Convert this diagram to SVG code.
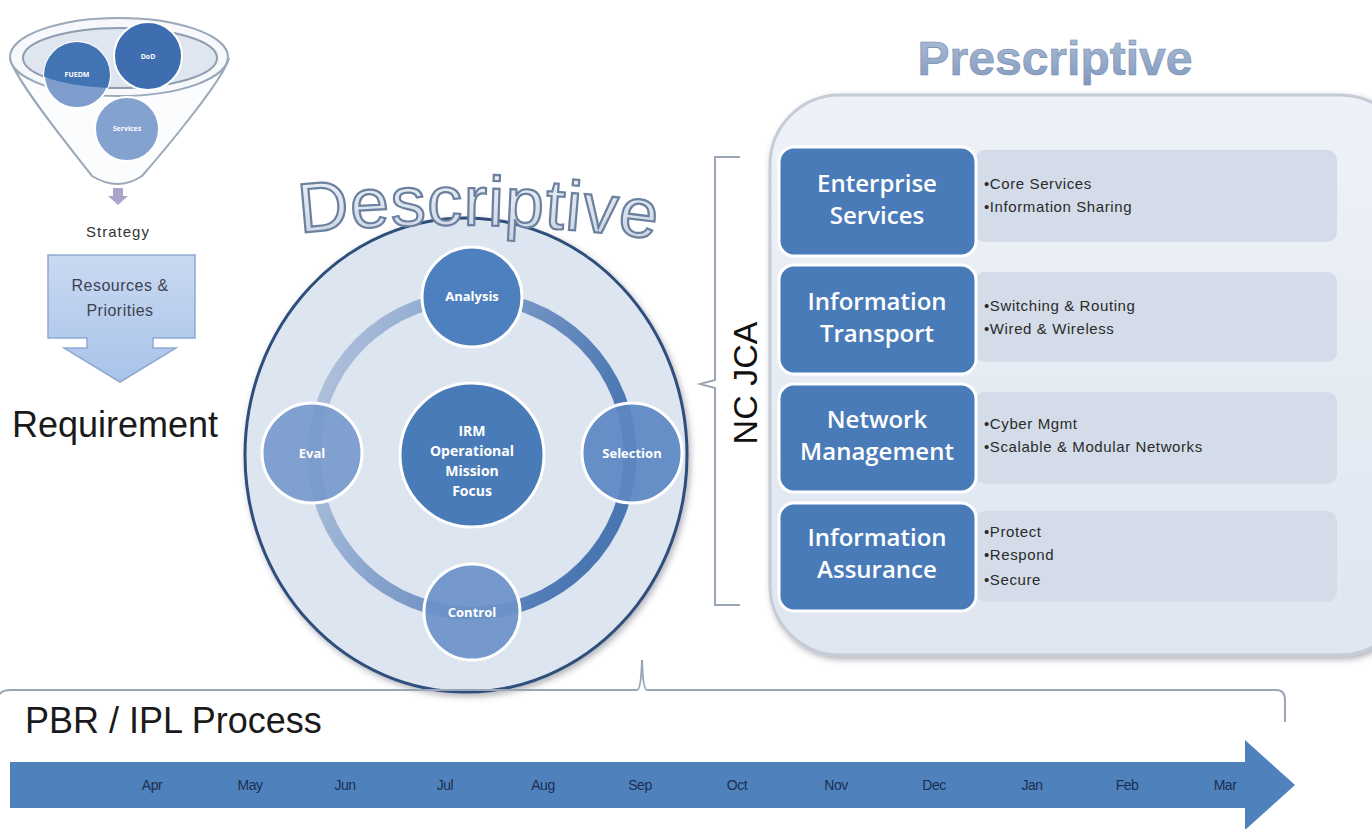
<svg xmlns="http://www.w3.org/2000/svg" width="1372" height="829" viewBox="0 0 1372 829">
<style>
.lbl{font-family:"Liberation Sans",Arial,sans-serif;}
.wh{fill:#ffffff;font-family:"Open Sans","Liberation Sans",sans-serif;font-weight:bold;text-anchor:middle;}
.box{fill:#4a7bb9;stroke:#ffffff;stroke-width:3;}
.pane{fill:#d3dce8;}
.bul{font-family:"Liberation Sans",Arial,sans-serif;font-size:15px;fill:#2b2b2b;letter-spacing:0.6px;}
.boxt{font-family:"Open Sans","Liberation Sans",sans-serif;font-size:24px;font-weight:600;fill:#ffffff;text-anchor:middle;}
.mon{font-family:"Liberation Sans",Arial,sans-serif;font-size:14px;fill:#1c2f50;text-anchor:middle;letter-spacing:-0.5px;}
.brk{fill:none;stroke:#9aa6b6;stroke-width:2;}
</style>
<defs>
<filter id="sh" x="-10%" y="-10%" width="120%" height="120%"><feDropShadow dx="2" dy="3" stdDeviation="3" flood-color="#556" flood-opacity="0.45"/></filter>
<linearGradient id="resg" x1="0" y1="0" x2="0" y2="1"><stop offset="0" stop-color="#c9d9f1"/><stop offset="1" stop-color="#a9c3ea"/></linearGradient>
<linearGradient id="panelg" x1="0" y1="0" x2="0" y2="1"><stop offset="0" stop-color="#eef2f8"/><stop offset="1" stop-color="#dfe6f0"/></linearGradient>
<linearGradient id="ringg" x1="0" y1="0" x2="1" y2="0.3"><stop offset="0" stop-color="#b9c9df"/><stop offset="0.5" stop-color="#7f9dca"/><stop offset="1" stop-color="#4a76b2"/></linearGradient>
<linearGradient id="descg" x1="0" y1="0" x2="0" y2="1"><stop offset="0" stop-color="#f3f6fa"/><stop offset="1" stop-color="#c2cfe0"/></linearGradient>
<linearGradient id="presg" x1="0" y1="0" x2="0" y2="1"><stop offset="0" stop-color="#aebfd8"/><stop offset="1" stop-color="#8299bd"/></linearGradient>
<clipPath id="innerClip"><ellipse cx="120" cy="58" rx="97" ry="30"/></clipPath>
<path id="descPath" d="M300,233 Q475,214 660,240"/>
</defs>

<rect width="1372" height="829" fill="#ffffff"/>

<!-- Funnel -->
<g id="funnel">
<path d="M10,58 C14,80 80,160 92,176 Q118,192 142,176 C156,160 224,80 229,58" fill="#fbfcfe" stroke="#9aa8b8" stroke-width="2"/>
<ellipse cx="119" cy="57" rx="109" ry="39" fill="#f6f8fb" stroke="#9aa8b8" stroke-width="2"/>
<ellipse cx="120" cy="58" rx="97" ry="30" fill="#dfe6ef" stroke="#8f9db0" stroke-width="2"/>
<circle cx="127" cy="129" r="32" fill="#84a2d0" stroke="#ffffff" stroke-width="2"/>
<circle cx="77" cy="75" r="33" fill="#7e9dcd" stroke="#ffffff" stroke-width="2"/>
<circle cx="77" cy="75" r="33" fill="#4273b3" clip-path="url(#innerClip)"/>
<circle cx="148" cy="56" r="34" fill="#3f6eb0" stroke="#ffffff" stroke-width="2"/>
<text x="77" y="77" font-size="7" class="wh">FUEDM</text>
<text x="148" y="59" font-size="7" class="wh">DoD</text>
<text x="127" y="131" font-size="7" class="wh">Services</text>
<path d="M113,188 h10 v8 h5 l-10,9 l-10,-9 h5 z" fill="#a9a6c9"/>
<text x="118" y="237" font-size="15" class="lbl" text-anchor="middle" fill="#333" letter-spacing="1">Strategy</text>
</g>

<!-- Resources & Priorities -->
<g id="resources">
<path d="M48,255 H195 V338 H153 V348 H176 L120,382 L64,348 H87 V338 H48 Z" fill="url(#resg)" stroke="#8fa9d2" stroke-width="1.5"/>
<text x="120" y="291" font-size="16" class="lbl" text-anchor="middle" fill="#3d4350" letter-spacing="0.5">Resources &amp;</text>
<text x="120" y="316" font-size="16" class="lbl" text-anchor="middle" fill="#3d4350" letter-spacing="0.5">Priorities</text>
</g>

<text id="requirement" x="12" y="437" font-size="36" class="lbl" fill="#1a1a1a">Requirement</text>

<g id="descriptive-circle">
<ellipse cx="466" cy="455" rx="221" ry="237" fill="#dde5f0" stroke="#2e4f7c" stroke-width="3" filter="url(#sh)"/>
<circle cx="472" cy="455" r="158" fill="none" stroke="url(#ringg)" stroke-width="13"/>
</g>

<!-- Descriptive -->
<g id="descriptive-title">
<text font-size="70" class="lbl" fill="url(#descg)" stroke="#6c819f" stroke-width="2.2" letter-spacing="1"><textPath href="#descPath">Descriptive</textPath></text>
</g>

<g id="irm">
<circle cx="472" cy="455" r="72" class="box" fill="#5683c0"/>
<text x="472" y="436" font-size="14" class="wh">IRM</text>
<text x="472" y="456" font-size="14" class="wh">Operational</text>
<text x="472" y="476" font-size="14" class="wh">Mission</text>
<text x="472" y="496" font-size="14" class="wh">Focus</text>
</g>
<g id="analysis">
<circle cx="472" cy="297" r="50" class="box" style="fill:#4e7fbe"/>
<text x="472" y="301" font-size="13" class="wh">Analysis</text>
</g>
<g id="selection">
<circle cx="632" cy="453" r="50" class="box" style="fill:#5c88c3;fill-opacity:0.92"/>
<text x="632" y="458" font-size="13" class="wh">Selection</text>
</g>
<g id="control">
<circle cx="472" cy="612" r="48" class="box" style="fill:#6b92c9;fill-opacity:0.92"/>
<text x="472" y="617" font-size="13" class="wh">Control</text>
</g>
<g id="eval">
<circle cx="312" cy="453" r="50" class="box" style="fill:#7598cc;fill-opacity:0.9"/>
<text x="312" y="458" font-size="13" class="wh">Eval</text>
</g>

<!-- Connectors / brackets -->
<g id="connectors">
<path class="brk" d="M740,157 H715 V380 L700,384 L715,388 V605 H740"/>
<path class="brk" d="M0,694 Q2,690 12,690 H637 Q641,690 642,660 Q643,690 647,690 H1276 Q1285,690 1285,700 V722"/>
</g>

<text id="ncjca" transform="translate(757,383) rotate(-90)" font-size="34" class="lbl" text-anchor="middle" fill="#111">NC JCA</text>

<!-- Prescriptive -->
<text id="prescriptive-title" x="1055" y="75" font-size="48" font-weight="bold" class="lbl" text-anchor="middle" fill="url(#presg)" stroke="#7189ad" stroke-width="0.6">Prescriptive</text>

<g id="prescriptive-panel">
<rect x="770" y="95" width="640" height="560" rx="70" fill="url(#panelg)" stroke="#c5ccd6" stroke-width="3" filter="url(#sh)"/>
</g>

<g id="enterprise-services">
<rect class="pane" x="975" y="150" width="362" height="92" rx="10"/>
<rect class="box" x="779" y="147" width="197" height="109" rx="15"/>
<text class="boxt" x="877" y="192">Enterprise</text>
<text class="boxt" x="877" y="224">Services</text>
<text class="bul" x="984" y="189">•Core Services</text>
<text class="bul" x="984" y="212">•Information Sharing</text>
</g>
<g id="information-transport">
<rect class="pane" x="975" y="272" width="362" height="90" rx="10"/>
<rect class="box" x="779" y="265" width="197" height="109" rx="15"/>
<text class="boxt" x="877" y="310">Information</text>
<text class="boxt" x="877" y="342">Transport</text>
<text class="bul" x="984" y="311">•Switching &amp; Routing</text>
<text class="bul" x="984" y="334">•Wired &amp; Wireless</text>
</g>
<g id="network-management">
<rect class="pane" x="975" y="392" width="362" height="92" rx="10"/>
<rect class="box" x="779" y="384" width="197" height="108" rx="15"/>
<text class="boxt" x="877" y="428">Network</text>
<text class="boxt" x="877" y="460">Management</text>
<text class="bul" x="984" y="429">•Cyber Mgmt</text>
<text class="bul" x="984" y="452">•Scalable &amp; Modular Networks</text>
</g>
<g id="information-assurance">
<rect class="pane" x="975" y="511" width="362" height="91" rx="10"/>
<rect class="box" x="779" y="503" width="197" height="108" rx="15"/>
<text class="boxt" x="877" y="546">Information</text>
<text class="boxt" x="877" y="578">Assurance</text>
<text class="bul" x="984" y="537">•Protect</text>
<text class="bul" x="984" y="560">•Respond</text>
<text class="bul" x="984" y="585">•Secure</text>
</g>

<!-- PBR / IPL -->
<text id="pbr" x="25" y="733" font-size="36" class="lbl" fill="#1a1a1a">PBR / IPL Process</text>

<g id="timeline">
<path d="M10,762 H1245 V740 L1295,785 L1245,830 V808 H10 Z" fill="#4f81bd"/>
<text class="mon" x="152" y="790">Apr</text>
<text class="mon" x="250" y="790">May</text>
<text class="mon" x="345" y="790">Jun</text>
<text class="mon" x="445" y="790">Jul</text>
<text class="mon" x="543" y="790">Aug</text>
<text class="mon" x="640" y="790">Sep</text>
<text class="mon" x="737" y="790">Oct</text>
<text class="mon" x="836" y="790">Nov</text>
<text class="mon" x="934" y="790">Dec</text>
<text class="mon" x="1032" y="790">Jan</text>
<text class="mon" x="1127" y="790">Feb</text>
<text class="mon" x="1225" y="790">Mar</text>
</g>
</svg>
